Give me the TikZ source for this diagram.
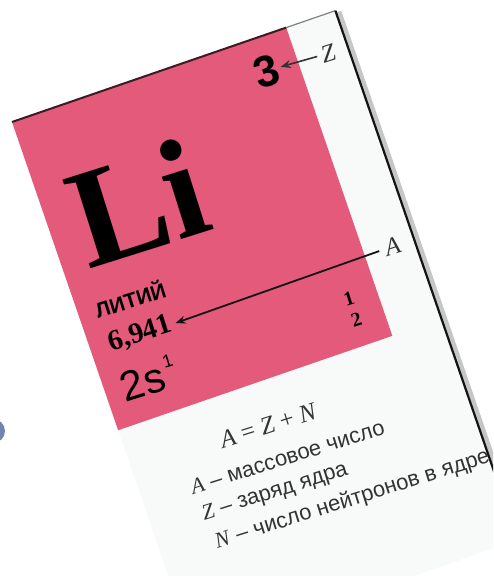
\documentclass[tikz,border=0pt]{standalone}
\usepackage{fontspec}
\setmainfont{Liberation Serif}
\setsansfont{Liberation Sans}
\usetikzlibrary{arrows.meta}
\definecolor{card}{HTML}{F8F9F9}
\definecolor{rose}{HTML}{E35A7B}
\definecolor{ink}{HTML}{141414}
\definecolor{muted}{HTML}{333333}
\definecolor{edge}{HTML}{3A1C22}
\definecolor{blob}{HTML}{6F86AE}
\newcommand\qvar[1]{{\rmfamily\itshape #1\/}}

\begin{document}
\begin{tikzpicture}[x=0.5pt,y=-0.5pt,
  lbl/.style={inner sep=0pt,transform shape,rotate=-1.5},
  note/.style={lbl,anchor=base west,font=\sffamily\fontsize{11}{12}\selectfont,text=muted},
  >={Stealth[length=5pt,width=4pt]}]
\useasboundingbox (0,0) rectangle (493,576);
\clip (0,0) rectangle (493,576);

\fill[blob] (-7,431) circle (12);

\begin{scope}[shift={(12,122)},rotate=19]
% card and coloured cell
\fill[card] (0,0) rectangle (342,560);
\fill[rose] (0,0) rectangle (290,326);
\draw[edge,line width=1pt] (0,0) -- (290,0);
\draw[gray,line width=0.6pt] (290,0) -- (342,0);
\draw[gray!45,line width=2.5pt] (345,2) -- (345,560);
\draw[ink,line width=1.1pt] (342,0) -- (342,560);

\node[lbl,anchor=base,font=\sffamily\bfseries\fontsize{22}{23}\selectfont] (num) at (257,50) {3};
\node[lbl,anchor=base,font=\itshape\fontsize{12.5}{13}\selectfont,text=muted] (lblZ) at (321,46) {Z};
\node[lbl,anchor=base west,font=\bfseries\fontsize{71}{71}\selectfont] (sym) at (24,164) {Li};
\node[lbl,anchor=base west,font=\sffamily\bfseries\fontsize{10.5}{12}\selectfont] (name) at (17,214) {ЛИТИЙ};
\node[lbl,anchor=base west,font=\bfseries\fontsize{14.5}{15}\selectfont] (mass) at (19,249) {6,941};
\node[lbl,anchor=base,font=\itshape\fontsize{12.5}{13}\selectfont,text=muted] (lblA) at (319,250) {A};
\node[lbl,anchor=base,font=\bfseries\fontsize{10}{11}\selectfont] (spinA) at (261,283) {1};
\node[lbl,anchor=base,font=\bfseries\fontsize{10}{11}\selectfont] (spinB) at (261,306) {2};
\node[lbl,anchor=base west,font=\sffamily\fontsize{21}{22}\selectfont] (shell) at (16,302) {2s};
\node[lbl,anchor=base,font=\sffamily\fontsize{9}{10}\selectfont] (shellexp) at (69,283) {1};

\draw[->,muted,line width=0.8pt,shorten <=2pt,shorten >=1pt] (lblZ.west) -- (num.east);
\draw[->,ink,line width=0.9pt,shorten <=3pt,shorten >=2pt] (lblA.west) -- (mass.east);

\node[lbl,anchor=base west,font=\itshape\fontsize{12.5}{13}\selectfont,text=muted] (eq) at (93,377)
  {A\/ \upshape= \itshape Z\/ \upshape+ \itshape N};
\node[note] (noteA) at (50,411) {\qvar{A} – массовое число};
\node[note] (noteZ) at (52,439) {\qvar{Z} – заряд ядра};
\node[note] (noteN) at (55,470) {\qvar{N} – число нейтронов в ядре};
\end{scope}
\end{tikzpicture}
\end{document}
